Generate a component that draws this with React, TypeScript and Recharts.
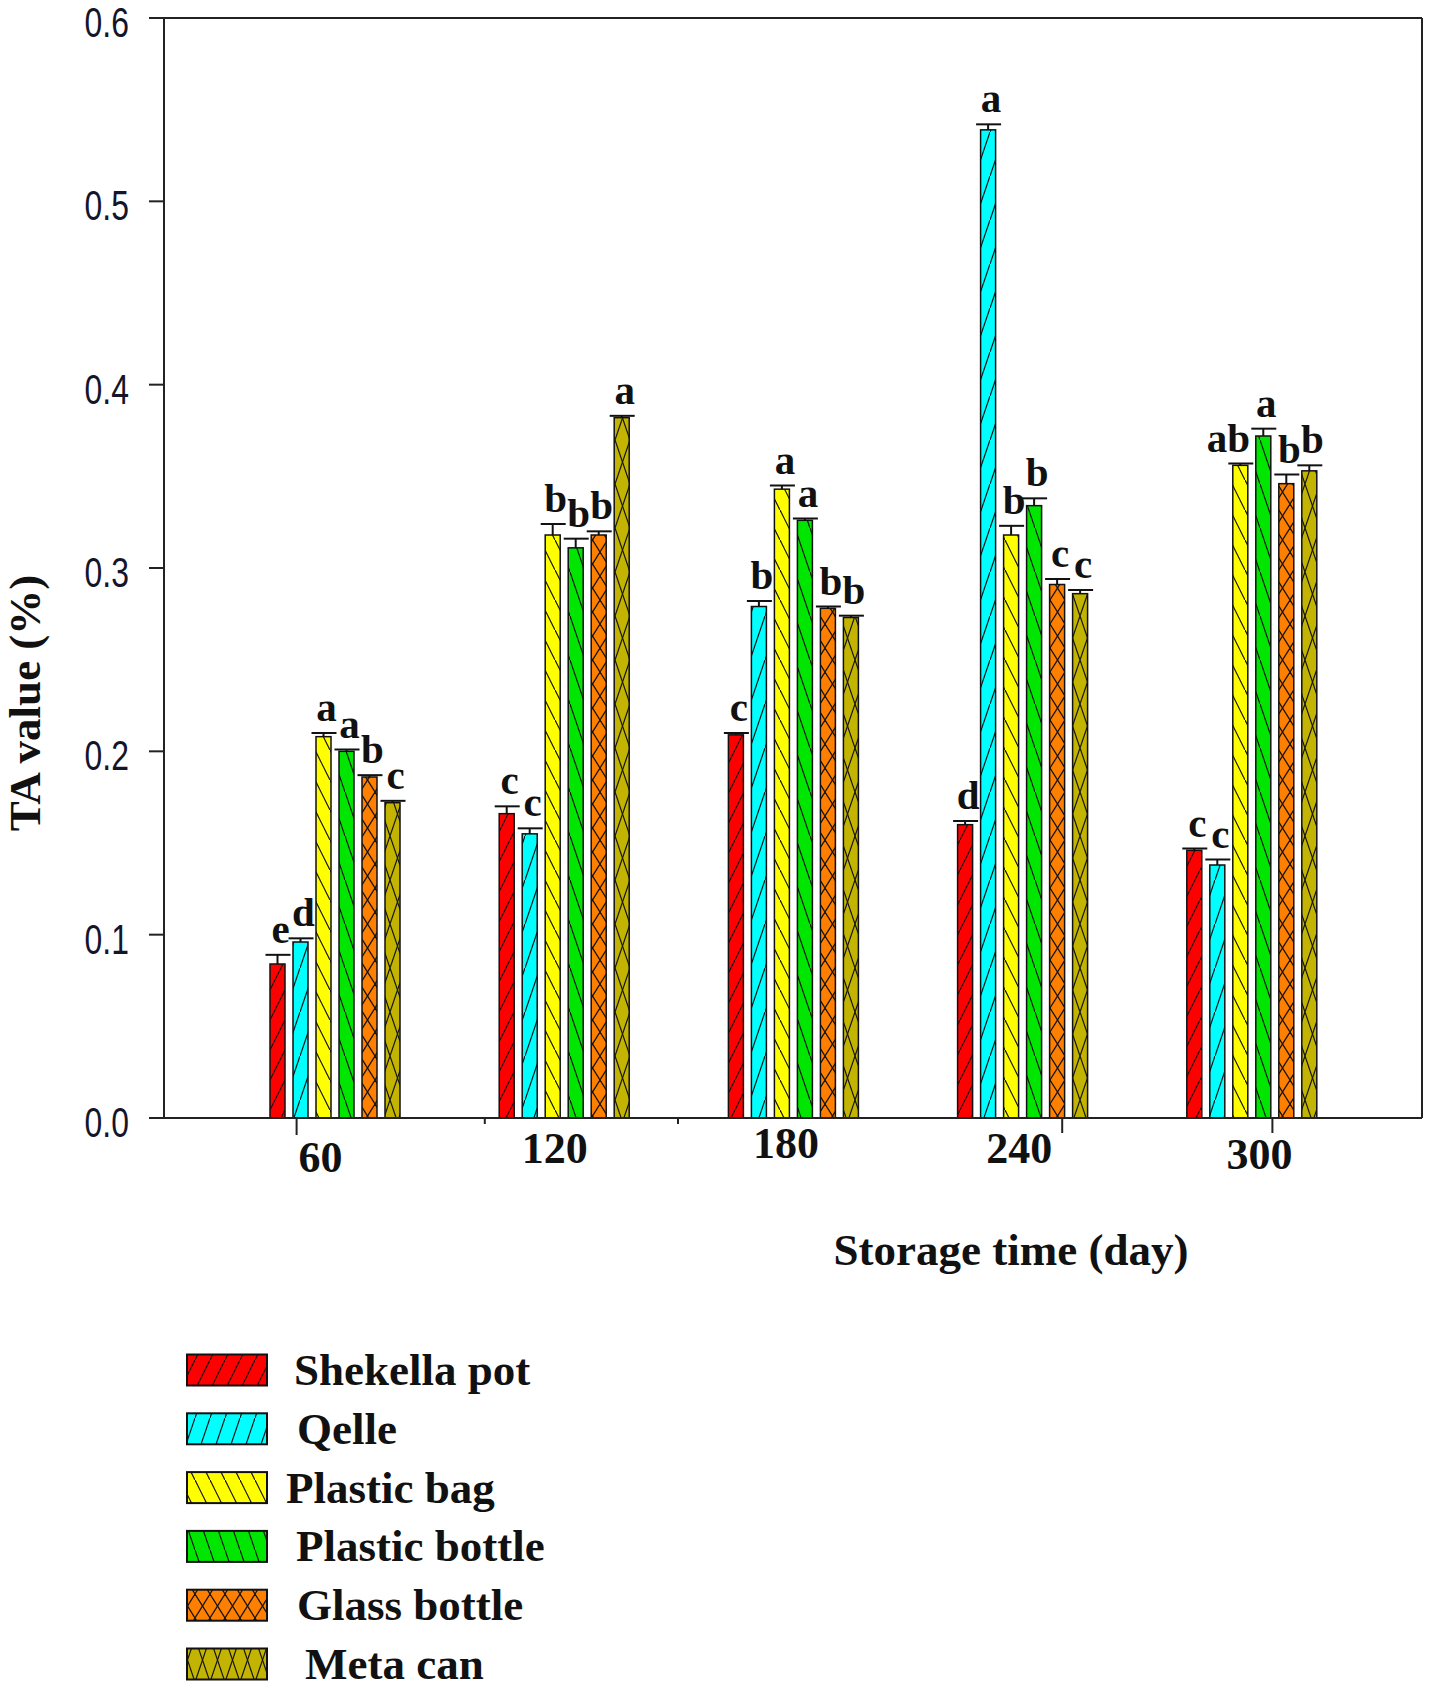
import { BarChart, Bar, XAxis, YAxis } from 'recharts';

const days = ['60', '120', '180', '240', '300'];
const containerNames = ['Shekella pot', 'Qelle', 'Plastic bag', 'Plastic bottle', 'Glass bottle', 'Meta can'];

// TA value (%) per storage day
const shekellaPot = [0.084, 0.166, 0.209, 0.160, 0.146];
const qelle = [0.096, 0.155, 0.279, 0.539, 0.138];
const plasticBag = [0.208, 0.318, 0.343, 0.318, 0.356];
const plasticBottle = [0.200, 0.311, 0.326, 0.334, 0.372];
const glassBottle = [0.186, 0.318, 0.278, 0.291, 0.346];
const metaCan = [0.172, 0.382, 0.273, 0.286, 0.353];

// upper error (SE)
const shekellaPotErr = [0.005, 0.004, 0.001, 0.002, 0.001];
const qelleErr = [0.002, 0.003, 0.003, 0.003, 0.003];
const plasticBagErr = [0.002, 0.006, 0.002, 0.005, 0.001];
const plasticBottleErr = [0.001, 0.005, 0.001, 0.004, 0.004];
const glassBottleErr = [0.001, 0.002, 0.001, 0.003, 0.005];
const metaCanErr = [0.001, 0.001, 0.001, 0.002, 0.003];

// significance letters
const shekellaPotLetters = ['e', 'c', 'c', 'd', 'c'];
const qelleLetters = ['d', 'c', 'b', 'a', 'c'];
const plasticBagLetters = ['a', 'b', 'a', 'b', 'ab'];
const plasticBottleLetters = ['a', 'b', 'a', 'b', 'a'];
const glassBottleLetters = ['b', 'b', 'b', 'c', 'b'];
const metaCanLetters = ['c', 'a', 'b', 'c', 'b'];

const yTicks = [0, 0.1, 0.2, 0.3, 0.4, 0.5, 0.6];

const seriesValues = [shekellaPot, qelle, plasticBag, plasticBottle, glassBottle, metaCan];
const seriesErrors = [shekellaPotErr, qelleErr, plasticBagErr, plasticBottleErr, glassBottleErr, metaCanErr];
const seriesLetters = [shekellaPotLetters, qelleLetters, plasticBagLetters, plasticBottleLetters, glassBottleLetters, metaCanLetters];

// fill colour + hatch of each series
const looks = [
  { color: '#ff0000', step: 30, fwd: true, back: false },
  { color: '#00ffff', step: 44, fwd: true, back: false },
  { color: '#ffff00', step: 30, fwd: false, back: true },
  { color: '#00e600', step: 44, fwd: false, back: true },
  { color: '#ff8000', step: 24, fwd: true, back: true },
  { color: '#c2b400', step: 44, fwd: true, back: true },
];

const SERIF = "'Liberation Serif', 'Times New Roman', serif";
const SANS = "'Liberation Sans', Arial, sans-serif";

const rows = days.map((day, i) => {
  const row: Record<string, string | number> = { day };
  seriesValues.forEach((vals, k) => {
    row[`v${k}`] = vals[i];
    row[`e${k}`] = seriesErrors[k][i];
    row[`l${k}`] = seriesLetters[k][i];
  });
  return row;
});

// the day labels and tick marks in the original are hand-placed, not centred
const labelShift = [-14, -9, -7, -3, 8];
const labelDrop = [54, 45, 40, 45, 51];
const markShift = [-38, -79, -115, 40, 21];
const markLen = [17, 6, 6, 15, 15];
const legendTextX = [294, 297, 286, 296, 297, 305];

function DayTick(props: any) {
  const { x, y, payload } = props;
  const i = Math.max(0, days.indexOf(String(payload.value)));
  return (
    <g>
      <line x1={x + markShift[i]} y1={y} x2={x + markShift[i]} y2={y + markLen[i]} stroke="#222" strokeWidth={2} />
      <text x={x + labelShift[i]} y={y + labelDrop[i]} textAnchor="middle" fontFamily={SERIF} fontWeight="bold" fontSize={44} fill="#111">
        {payload.value}
      </text>
    </g>
  );
}

// narrow sans digits like the original
function ValueTick(props: any) {
  const { x, y, payload } = props;
  return (
    <text
      transform={`translate(${x}, ${y + 19}) scale(0.76, 1)`}
      textAnchor="end"
      fontFamily={SANS}
      fontSize={42}
      fill="#14142a"
    >
      {Number(payload.value).toFixed(1)}
    </text>
  );
}

function makeBarShape(k: number) {
  return (props: any) => {
    const { x, y, width, height, payload } = props;
    const value = Number(payload[`v${k}`]);
    const err = Number(payload[`e${k}`]);
    const letter = String(payload[`l${k}`]);
    const capY = value > 0 ? y - (err * height) / value : y;
    const cx = x + width / 2;
    return (
      <g>
        <rect x={x} y={y} width={width} height={height} fill={`url(#pat${k})`} stroke="#111" strokeWidth={1.5} />
        <line x1={cx} y1={y} x2={cx} y2={capY} stroke="#111" strokeWidth={2} />
        <line x1={cx - 12} y1={capY} x2={cx + 13} y2={capY} stroke="#111" strokeWidth={2} />
        <text
          x={cx + (letter.length > 1 ? -12 : 3)}
          y={capY - 12}
          textAnchor="middle"
          fontFamily={SERIF}
          fontWeight="bold"
          fontSize={41}
          fill="#111"
        >
          {letter}
        </text>
      </g>
    );
  };
}

function Patterns() {
  return (
    <defs>
      {looks.map((l, k) => (
        <pattern key={k} id={`pat${k}`} patternUnits="userSpaceOnUse" width={15} height={l.step}>
          <rect width={15} height={l.step} fill={l.color} />
          {l.fwd && <line x1={0} y1={l.step} x2={15} y2={0} stroke="#111" strokeWidth={1.2} />}
          {l.back && <line x1={0} y1={0} x2={15} y2={l.step} stroke="#111" strokeWidth={1.2} />}
        </pattern>
      ))}
    </defs>
  );
}

function LegendBlock() {
  return (
    <svg width={700} height={358} style={{ position: 'absolute', left: 0, top: 1330 }}>
      {containerNames.map((name, k) => {
        const cy = 40 + k * 58.8;
        return (
          <g key={name}>
            <rect x={187} y={cy - 15.5} width={80} height={31} fill={`url(#pat${k})`} stroke="#111" strokeWidth={2} />
            <text x={legendTextX[k]} y={cy + 15} fontFamily={SERIF} fontWeight="bold" fontSize={45} fill="#111">
              {name}
            </text>
          </g>
        );
      })}
    </svg>
  );
}

export default function App() {
  return (
    <div style={{ position: 'absolute', left: 0, top: 0, width: 1429, height: 1688, background: '#fff' }}>
      <BarChart
        width={1429}
        height={1300}
        data={rows}
        margin={{ top: 17, right: 6, left: 0, bottom: 62 }}
        barSize={15}
        barGap={8}
      >
        <Patterns />
        <XAxis
          dataKey="day"
          height={120}
          padding={{ left: 56, right: 56 }}
          axisLine={{ stroke: '#222', strokeWidth: 2 }}
          tickLine={false}
          tickSize={0}
          tickMargin={0}
          tick={<DayTick />}
          interval={0}
        />
        <XAxis xAxisId="top" dataKey="day" orientation="top" height={1} tick={false} tickLine={false} axisLine={{ stroke: '#222', strokeWidth: 2 }} />
        <YAxis
          width={164}
          domain={[0, 0.6]}
          ticks={yTicks}
          tickSize={15}
          tickMargin={20}
          axisLine={{ stroke: '#222', strokeWidth: 2 }}
          tickLine={{ stroke: '#222', strokeWidth: 2 }}
          tick={<ValueTick />}
        />
        <YAxis yAxisId="right" orientation="right" width={1} tick={false} tickLine={false} axisLine={{ stroke: '#222', strokeWidth: 2 }} />
        {containerNames.map((name, k) => (
          <Bar key={name} dataKey={`v${k}`} name={name} shape={makeBarShape(k)} isAnimationActive={false} />
        ))}
        <text
          x={40}
          y={703}
          transform="rotate(-90 40 703)"
          textAnchor="middle"
          fontFamily={SERIF}
          fontWeight="bold"
          fontSize={45}
          fill="#111"
        >
          TA value (%)
        </text>
        <text x={1011} y={1265} textAnchor="middle" fontFamily={SERIF} fontWeight="bold" fontSize={45} fill="#111">
          Storage time (day)
        </text>
      </BarChart>
      <LegendBlock />
    </div>
  );
}
